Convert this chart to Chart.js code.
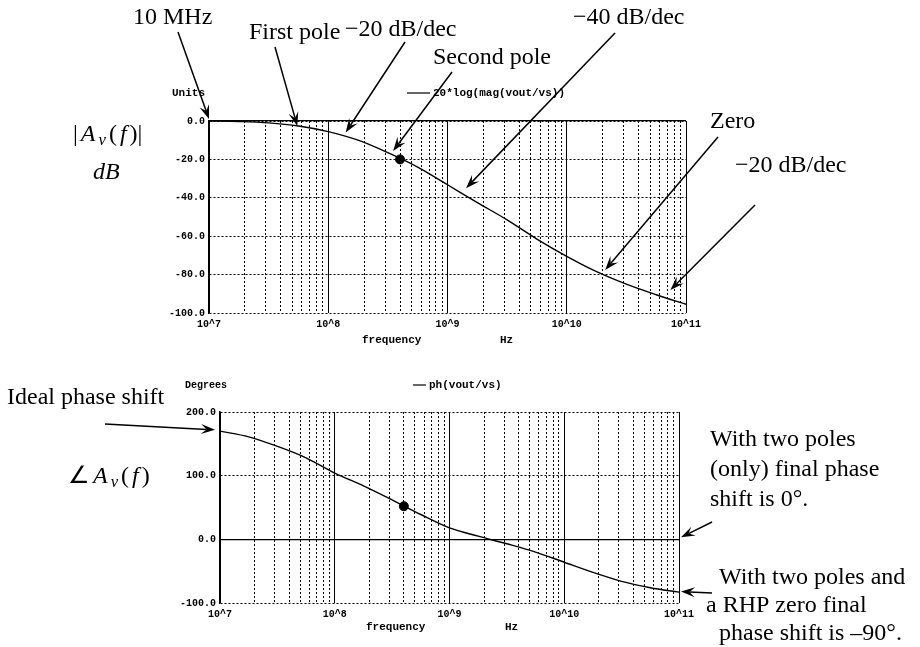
<!DOCTYPE html>
<html>
<head>
<meta charset="utf-8">
<script src="https://cdn.jsdelivr.net/npm/chart.js@4.4.0/dist/chart.umd.min.js"></script>
<style>
  html, body { margin: 0; padding: 0; background: #fff; }
  #wrap { position: relative; width: 920px; height: 647px; overflow: hidden; }
  canvas { position: absolute; left: 0; }
  #mag { top: 0; }
  #phase { top: 350px; }
</style>
</head>
<body>
<div id="wrap">
  <canvas id="mag" width="920" height="350"></canvas>
  <canvas id="phase" width="920" height="297"></canvas>
</div>
<script>
// values
const freqHz = [1e7, 1.78e7, 3.16e7, 5.62e7, 1e8, 1.78e8, 3.16e8, 5.62e8, 1e9, 1.78e9, 3.16e9, 5.62e9, 1e10, 1.78e10, 3.16e10, 5.62e10, 1e11];
const magDb = [0, -0.3, -1.0, -2.6, -5.5, -10, -16.5, -24, -33.2, -42.5, -51.5, -61.5, -70.5, -78.5, -85, -90.5, -95.5];
const phaseDeg = [170, 161, 146, 128, 104, 84, 62, 39, 18, 5, -7, -20, -36, -52, -66, -76, -83];
const poleHz = [4e8];
const poleMagDb = [-20];
const polePhaseDeg = [52];

const decadeHz = [1e7, 1e8, 1e9, 1e10, 1e11];
const decadeLabels = ['10^7', '10^8', '10^9', '10^10', '10^11'];
const minorSteps = [2, 3, 4, 5, 6, 7, 8, 9];
const magTicks = [0, -20, -40, -60, -80, -100];
const phaseTicks = [200, 100, 0, -100];

const mono = "'Liberation Mono', 'DejaVu Sans Mono', monospace";
const serif = "'Liberation Serif', 'Times New Roman', serif";
const noteSize = 24;

function gridTicks() {
    const out = [];
    decadeHz.forEach((d, i) => {
        out.push({ value: d });
        if (i < decadeHz.length - 1) minorSteps.forEach(m => out.push({ value: d * m }));
    });
    return out;
}

function drawRuns(ctx, x, y, runs, size, gap) {
    let cx = x;
    for (const r of runs) {
        const s = r.sub ? size * 0.7 : size;
        ctx.font = (r.italic ? 'italic ' : '') + s + 'px ' + serif;
        ctx.fillText(r.t, cx, r.sub ? y + size * 0.22 : y);
        cx += ctx.measureText(r.t).width + gap;
    }
}

function arrow(ctx, x1, y1, x2, y2) {
    const a = Math.atan2(y2 - y1, x2 - x1);
    const c = Math.cos(a), s = Math.sin(a);
    const len = 14, half = 5;
    ctx.beginPath();
    ctx.moveTo(x1, y1);
    ctx.lineTo(x2 - c * len * 0.6, y2 - s * len * 0.6);
    ctx.stroke();
    ctx.beginPath();
    ctx.moveTo(x2, y2);
    ctx.lineTo(x2 - len * c + half * s, y2 - len * s - half * c);
    ctx.lineTo(x2 - len * 0.6 * c, y2 - len * 0.6 * s);
    ctx.lineTo(x2 - len * c - half * s, y2 - len * s + half * c);
    ctx.closePath();
    ctx.fill();
}

const notesPlugin = {
    id: 'notes',
    afterDraw(chart, args, opts) {
        const ctx = chart.ctx;
        const xs = chart.scales.x, ys = chart.scales.y;
        ctx.save();
        ctx.fillStyle = '#000';
        ctx.strokeStyle = '#000';
        ctx.textBaseline = 'middle';
        ctx.textAlign = 'left';

        for (const s of opts.small) {
            ctx.font = 'bold ' + (s.size || 11) + 'px ' + mono;
            ctx.fillText(s.t, s.x, s.y);
        }
        ctx.lineWidth = 1.2;
        ctx.beginPath();
        ctx.moveTo(opts.key[0], opts.key[2]);
        ctx.lineTo(opts.key[1], opts.key[2]);
        ctx.stroke();

        for (const n of opts.notes) {
            drawRuns(ctx, n.x, n.y, n.runs || [{ t: n.t }], n.size || noteSize, n.gap || 0);
        }

        ctx.lineWidth = 1.5;
        for (const a of opts.arrows) {
            const tx = xs.getPixelForValue(a.f) + (a.dx || 0);
            const ty = ys.getPixelForValue(a.v) + (a.dy || 0);
            arrow(ctx, a.from[0], a.from[1], tx, ty);
        }
        ctx.restore();
    }
};

function makeChart(id, cfg) {
    const pts = ys => freqHz.map((f, i) => ({ x: f, y: ys[i] }));
    return new Chart(document.getElementById(id), {
        type: 'line',
        data: {
            datasets: [
                {
                    data: pts(cfg.values),
                    borderColor: '#000',
                    borderWidth: 1.4,
                    pointRadius: 0,
                    cubicInterpolationMode: 'monotone',
                    fill: false
                },
                {
                    data: poleHz.map((f, i) => ({ x: f, y: cfg.dot[i] })),
                    showLine: false,
                    pointRadius: 4.5,
                    pointBackgroundColor: '#000',
                    pointBorderColor: '#000'
                }
            ]
        },
        options: {
            responsive: false,
            animation: false,
            devicePixelRatio: 1,
            layout: { padding: cfg.padding },
            plugins: {
                legend: { display: false },
                tooltip: { enabled: false },
                notes: cfg.notes
            },
            scales: {
                x: {
                    type: 'logarithmic',
                    min: decadeHz[0],
                    max: decadeHz[decadeHz.length - 1],
                    position: 'bottom',
                    grid: { color: '#000', lineWidth: 1, drawTicks: false },
                    border: { display: false, dash: [2, 2] },
                    afterBuildTicks: s => { s.ticks = gridTicks(); },
                    ticks: {
                        autoSkip: false,
                        maxRotation: 0,
                        padding: 5,
                        color: '#000',
                        font: { family: mono, size: 10, weight: 'bold' },
                        callback: v => {
                            const i = decadeHz.indexOf(v);
                            return i >= 0 ? decadeLabels[i] : '';
                        }
                    },
                    afterFit: s => { s.height = 20; }
                },
                xd: {
                    type: 'logarithmic',
                    min: decadeHz[0],
                    max: decadeHz[decadeHz.length - 1],
                    position: 'bottom',
                    grid: { color: '#000', lineWidth: 1, drawTicks: false },
                    border: { display: false },
                    ticks: { display: false },
                    afterBuildTicks: s => { s.ticks = decadeHz.map(v => ({ value: v })); },
                    afterFit: s => { s.height = 0; }
                },
                y: {
                    min: cfg.ticks[cfg.ticks.length - 1],
                    max: cfg.ticks[0],
                    grid: { color: '#000', lineWidth: 1, drawTicks: false },
                    border: { display: true, color: '#000', width: 1.5, dash: [2, 2] },
                    afterBuildTicks: s => { s.ticks = cfg.ticks.map(v => ({ value: v })); },
                    ticks: {
                        padding: 4,
                        color: '#000',
                        font: { family: mono, size: 10, weight: 'bold' },
                        callback: v => v.toFixed(1)
                    },
                    afterFit: s => { s.width = 50; }
                },
                yz: {
                    min: cfg.ticks[cfg.ticks.length - 1],
                    max: cfg.ticks[0],
                    position: 'left',
                    grid: { color: '#000', lineWidth: 1.2, drawTicks: false },
                    border: { display: false },
                    ticks: { display: false },
                    afterBuildTicks: s => { s.ticks = [{ value: 0 }]; },
                    afterFit: s => { s.width = 0; }
                }
            }
        },
        plugins: [notesPlugin]
    });
}

makeChart('mag', {
    values: magDb,
    dot: poleMagDb,
    ticks: magTicks,
    padding: { left: 159, right: 234, top: 121, bottom: 17 },
    notes: {
        small: [
            { t: 'Units', x: 172, y: 93 },
            { t: '20*log(mag(vout/vs))', x: 433, y: 93 },
            { t: 'frequency', x: 362, y: 340 },
            { t: 'Hz', x: 500, y: 340 }
        ],
        key: [407, 430, 93],
        notes: [
            { t: '10 MHz', x: 133, y: 18 },
            { t: 'First pole', x: 249, y: 33 },
            { t: '\u221220 dB/dec', x: 345, y: 30 },
            { t: 'Second pole', x: 433, y: 58 },
            { t: '\u221240 dB/dec', x: 573, y: 18 },
            { t: 'Zero', x: 710, y: 122 },
            { t: '\u221220 dB/dec', x: 735, y: 166 },
            { x: 73, y: 135, gap: 3, runs: [{ t: '|' }, { t: 'A', italic: true }, { t: 'v', italic: true, sub: true }, { t: '(' }, { t: 'f', italic: true }, { t: ')|' }] },
            { x: 93, y: 173, runs: [{ t: 'dB', italic: true }] }
        ],
        arrows: [
            { from: [178, 32], f: 1e7, v: 0, dy: -2 },
            { from: [275, 47], f: 5.5e7, v: -2.6 },
            { from: [405, 42], f: 1.4e8, v: -6 },
            { from: [452, 72], f: 3.5e8, v: -15.6 },
            { from: [615, 33], f: 1.43e9, v: -35 },
            { from: [718, 137], f: 2.1e10, v: -77.6 },
            { from: [755, 205], f: 7.4e10, v: -88 }
        ]
    }
});

makeChart('phase', {
    values: phaseDeg,
    dot: polePhaseDeg,
    ticks: phaseTicks,
    padding: { left: 170, right: 241, top: 62, bottom: 24 },
    notes: {
        small: [
            { t: 'Degrees', x: 185, y: 35, size: 10 },
            { t: 'ph(vout/vs)', x: 429, y: 35 },
            { t: 'frequency', x: 366, y: 277 },
            { t: 'Hz', x: 505, y: 277 }
        ],
        key: [413, 426, 35],
        notes: [
            { t: 'Ideal phase shift', x: 7, y: 48 },
            { x: 68, y: 127, gap: 3, runs: [{ t: '\u2220' }, { t: 'A', italic: true }, { t: 'v', italic: true, sub: true }, { t: '(' }, { t: 'f', italic: true }, { t: ')' }] },
            { t: 'With two poles', x: 710, y: 90 },
            { t: '(only) final phase', x: 710, y: 120 },
            { t: 'shift is 0\u00b0.', x: 710, y: 150 },
            { t: 'With two poles and', x: 719, y: 228 },
            { t: 'a RHP zero final', x: 706, y: 256 },
            { t: 'phase shift is \u201390\u00b0.', x: 719, y: 284 }
        ],
        arrows: [
            { from: [105, 74], f: 1e7, v: 172, dx: -5 },
            { from: [712, 172], f: 1e11, v: 0, dx: 2, dy: -2 },
            { from: [712, 243], f: 1e11, v: -82, dx: 2 }
        ]
    }
});
</script>
</body>
</html>
